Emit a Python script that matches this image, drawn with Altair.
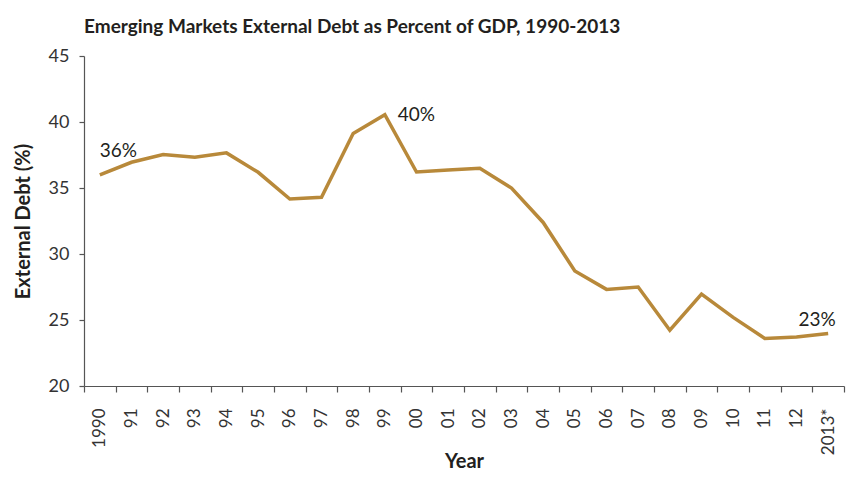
import altair as alt
import pandas as pd

labels = ["1990", "91", "92", "93", "94", "95", "96", "97", "98", "99",
          "00", "01", "02", "03", "04", "05", "06", "07", "08", "09",
          "10", "11", "12", "2013*"]
debt = [36.0, 36.95, 37.53, 37.33, 37.66, 36.19, 34.16, 34.29, 39.13, 40.55,
        36.21, 36.36, 36.5, 35.0, 32.39, 28.72, 27.32, 27.5, 24.23, 26.97,
        25.2, 23.6, 23.72, 23.98]

ann_labels = ["1990", "99", "2013*"]
ann_values = [36.0, 40.55, 23.98]
ann_texts = ["36%", "40%", "23%"]

df = pd.DataFrame({"label": labels, "debt": debt})
ann = pd.DataFrame({"label": ann_labels, "debt": ann_values, "text": ann_texts})

FONT = "Lato"
LINE = "#B8893A"

x_enc = alt.X(
    "label:N", sort=labels,
    scale=alt.Scale(type="band", paddingInner=0, paddingOuter=0),
    axis=alt.Axis(
        title="Year", labelAngle=-90, tickBand="extent", tickSize=6,
        labelPadding=16, labelFontSize=17, labelFont=FONT, labelColor="#333333",
        titleFont=FONT, titleFontSize=20, titleFontWeight="bold", titleColor="#231F20",
        titleY=81, titleBaseline="alphabetic",
        domainColor="#555555", tickColor="#555555",
        domainWidth=1.2, tickWidth=1.2, grid=False,
    ),
)
y_enc = alt.Y(
    "debt:Q",
    scale=alt.Scale(domain=[20, 45], nice=False, zero=False),
    axis=alt.Axis(
        title="External Debt (%)", values=[20, 25, 30, 35, 40, 45], tickSize=5,
        labelPadding=10, labelFontSize=18, labelFont=FONT, labelColor="#333333",
        titleFont=FONT, titleFontSize=20, titleFontWeight="bold", titleColor="#231F20",
        titlePadding=15, domainColor="#555555", tickColor="#555555",
        domainWidth=1.2, tickWidth=1.2, grid=False,
    ),
)

line = alt.Chart(df).mark_line(color=LINE, strokeWidth=3.5, strokeJoin="miter").encode(
    x=x_enc, y=y_enc
)

base_ann = alt.Chart(ann).encode(
    x=alt.X("label:N", sort=labels), y=alt.Y("debt:Q"), text="text:N"
)
t1 = base_ann.transform_filter(alt.datum.label == "1990").mark_text(
    align="left", baseline="alphabetic", dx=0, dy=-18, fontSize=19, font=FONT, color="#231F20"
)
t2 = base_ann.transform_filter(alt.datum.label == "99").mark_text(
    align="left", baseline="alphabetic", dx=13, dy=6, fontSize=19, font=FONT, color="#231F20"
)
t3 = base_ann.transform_filter(alt.datum.label == "2013*").mark_text(
    align="center", baseline="alphabetic", dx=-11, dy=-7, fontSize=19, font=FONT, color="#231F20"
)

chart = alt.layer(line, t1, t2, t3).properties(
    width=760, height=330,
    autosize=alt.AutoSizeParams(type="none"),
    padding={"left": 76, "top": 48, "right": 2, "bottom": 84},
    title=alt.TitleParams(
        "Emerging Markets External Debt as Percent of GDP, 1990-2013",
        anchor="start", frame="group", font=FONT, fontSize=19, fontWeight="bold",
        color="#231F20", offset=20, baseline="alphabetic", dy=25,
    ),
).configure_view(stroke=None)

chart.save("out.html", embed_options={"renderer": "svg", "actions": False})
